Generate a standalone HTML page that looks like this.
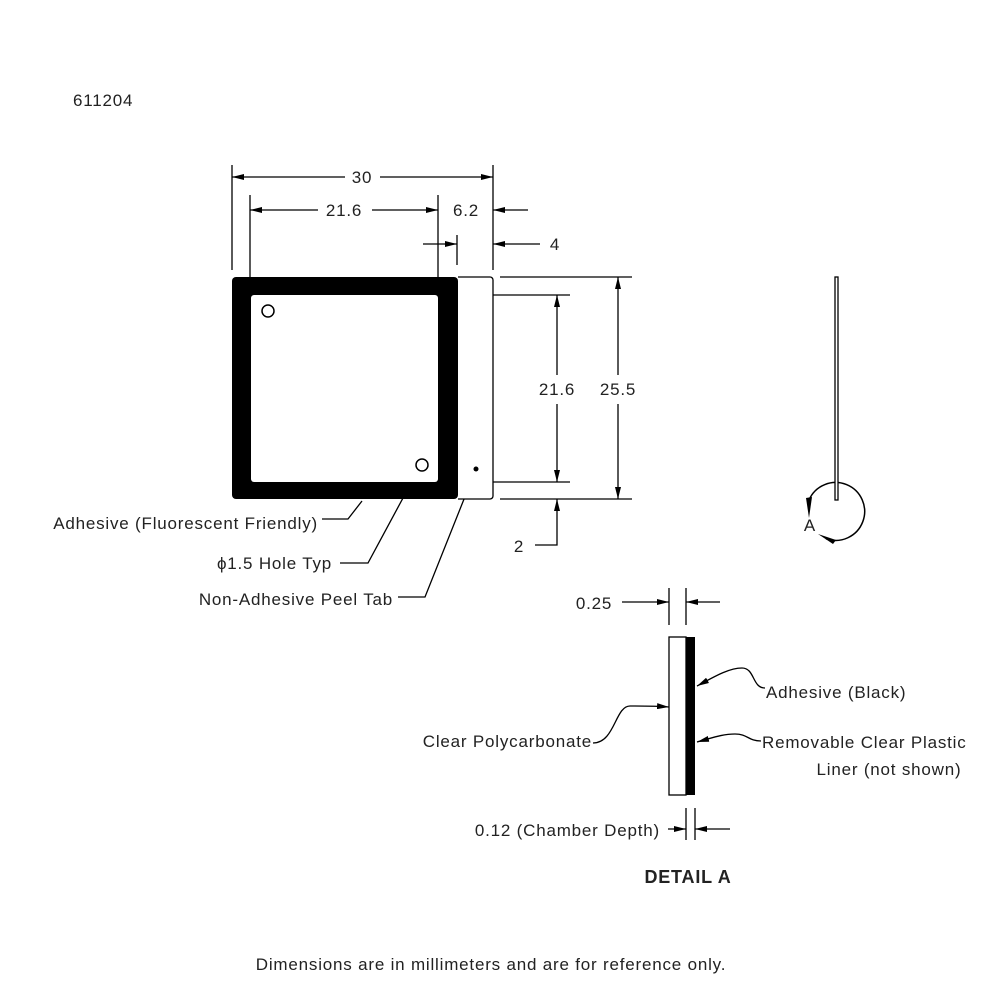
<!DOCTYPE html>
<html><head><style>body{margin:0;background:#fff}svg{display:block}text{font-family:"Liberation Sans",sans-serif;font-size:17px;letter-spacing:0.8px;fill:#222}</style></head><body>
<svg width="1000" height="1000" viewBox="0 0 1000 1000">
<defs>
<marker id="a" viewBox="0 0 12 6" refX="12" refY="3" markerWidth="12" markerHeight="6" markerUnits="userSpaceOnUse" orient="auto"><path d="M0,0L12,3L0,6z" fill="#000"/></marker>
</defs>
<text x="73" y="106">611204</text>
<g stroke="#000" stroke-width="1.3" fill="none">
<line x1="232" y1="165" x2="232" y2="270"/><line x1="493" y1="165" x2="493" y2="270"/>
<line x1="250" y1="195" x2="250" y2="277"/><line x1="438" y1="195" x2="438" y2="277"/>
<line x1="457" y1="235" x2="457" y2="265"/>
<line x1="500" y1="277" x2="632" y2="277"/><line x1="500" y1="499" x2="632" y2="499"/>
<line x1="458" y1="295" x2="570" y2="295"/><line x1="458" y1="482" x2="570" y2="482"/>
<line x1="345" y1="177" x2="232" y2="177" marker-end="url(#a)"/><line x1="380" y1="177" x2="493" y2="177" marker-end="url(#a)"/>
<line x1="318" y1="210" x2="250" y2="210" marker-end="url(#a)"/><line x1="372" y1="210" x2="438" y2="210" marker-end="url(#a)"/>
<line x1="528" y1="210" x2="493" y2="210" marker-end="url(#a)"/>
<line x1="423" y1="244" x2="457" y2="244" marker-end="url(#a)"/>
<line x1="540" y1="244" x2="493" y2="244" marker-end="url(#a)"/>
<line x1="557" y1="375" x2="557" y2="295" marker-end="url(#a)"/><line x1="557" y1="404" x2="557" y2="482" marker-end="url(#a)"/>
<line x1="618" y1="375" x2="618" y2="277" marker-end="url(#a)"/><line x1="618" y1="404" x2="618" y2="499" marker-end="url(#a)"/>
<polyline points="535,545 557,545 557,499" marker-end="url(#a)"/>
<polyline points="362,501 348,519 322,519"/>
<polyline points="417,472 368,563 340,563"/>
<polyline points="476,469 425,597 398,597"/>
</g>
<text x="362" y="183" text-anchor="middle">30</text>
<text x="344" y="216" text-anchor="middle">21.6</text>
<text x="466" y="216" text-anchor="middle">6.2</text>
<text x="555" y="250" text-anchor="middle">4</text>
<text x="557" y="395" text-anchor="middle">21.6</text>
<text x="618" y="395" text-anchor="middle">25.5</text>
<text x="519" y="552" text-anchor="middle">2</text>
<path d="M458,277 H490 a3,3 0 0 1 3,3 V496 a3,3 0 0 1 -3,3 H458" fill="#fff" stroke="#000" stroke-width="1.3"/>
<rect x="232" y="277" width="226" height="222" rx="4" fill="#000"/>
<rect x="251" y="295" width="187" height="187" rx="3" fill="#fff"/>
<circle cx="268" cy="311" r="6" fill="#fff" stroke="#000" stroke-width="1.5"/>
<circle cx="422" cy="465" r="6" fill="#fff" stroke="#000" stroke-width="1.5"/>
<circle cx="476" cy="469" r="2.5" fill="#000"/>
<text x="318" y="529" text-anchor="end">Adhesive (Fluorescent Friendly)</text>
<text x="332" y="569" text-anchor="end">ϕ1.5 Hole Typ</text>
<text x="393" y="605" text-anchor="end">Non-Adhesive Peel Tab</text>
<path d="M809,500 A29,29 0 1 1 826,538.8" fill="none" stroke="#000" stroke-width="1.5"/>
<rect x="835" y="277" width="3" height="223" fill="#fff" stroke="#000" stroke-width="1.3"/>
<polygon points="806,498 812,497 809,518" fill="#000"/>
<polygon points="818,534 836,540 833,544" fill="#000"/>
<text x="810" y="531" text-anchor="middle">A</text>
<rect x="669" y="637" width="17" height="158" fill="#fff" stroke="#000" stroke-width="1.3"/>
<rect x="686" y="637" width="9" height="158" fill="#000"/>
<g stroke="#000" stroke-width="1.3" fill="none">
<line x1="669" y1="588" x2="669" y2="625"/><line x1="686" y1="588" x2="686" y2="625"/>
<line x1="622" y1="602" x2="669" y2="602" marker-end="url(#a)"/><line x1="720" y1="602" x2="686" y2="602" marker-end="url(#a)"/>
<line x1="686" y1="808" x2="686" y2="840"/><line x1="695" y1="808" x2="695" y2="840"/>
<line x1="668" y1="829" x2="686" y2="829" marker-end="url(#a)"/><line x1="730" y1="829" x2="695" y2="829" marker-end="url(#a)"/>
<path d="M765,688 C752,688 755,668 742,668 C728,668 712,678 697,686" marker-end="url(#a)"/>
<path d="M761,741 C748,741 748,734 735,734 C722,734 712,738 697,742" marker-end="url(#a)"/>
<path d="M593,743 C615,743 615,706 630,706 C645,706 655,706 669,707" marker-end="url(#a)"/>
</g>
<text x="594" y="609" text-anchor="middle">0.25</text>
<text x="766" y="698">Adhesive (Black)</text>
<text x="762" y="748">Removable Clear Plastic</text>
<text x="889" y="775" text-anchor="middle">Liner (not shown)</text>
<text x="592" y="747" text-anchor="end">Clear Polycarbonate</text>
<text x="660" y="836" text-anchor="end">0.12 (Chamber Depth)</text>
<text x="688" y="883" text-anchor="middle" style="font-weight:bold;font-size:18px">DETAIL A</text>
<text x="491" y="970" text-anchor="middle">Dimensions are in millimeters and are for reference only.</text>
</svg>
</body></html>
